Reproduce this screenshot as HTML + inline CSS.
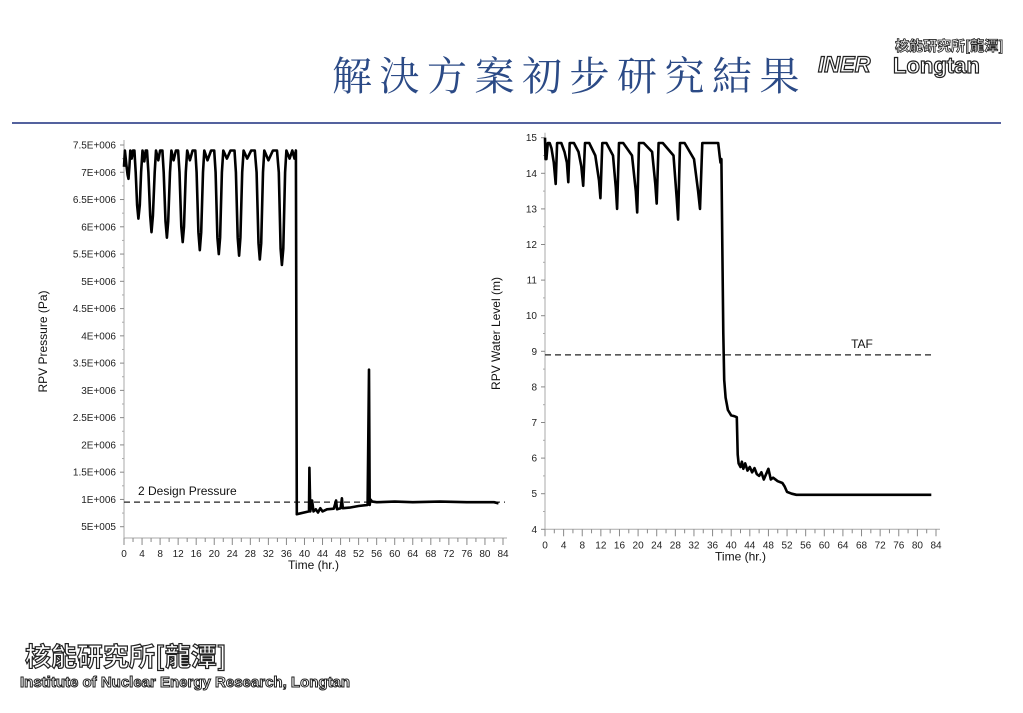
<!DOCTYPE html>
<html><head><meta charset="utf-8"><style>
body{margin:0;width:1023px;height:708px;background:#fff;overflow:hidden;font-family:"Liberation Sans",sans-serif}
svg text{font-family:"Liberation Sans","Noto Sans CJK TC",sans-serif}
</style></head><body>
<svg id="s" width="1023" height="708">
<text x="332" y="90" font-size="40" letter-spacing="7.5" fill="#2b4a86" style="font-family:'Noto Serif CJK SC',serif">解決方案初步研究結果</text>
<g>
<text x="818" y="72" font-size="22" font-style="italic" font-weight="bold" fill="#fff" stroke="#222" stroke-width="1.2">INER</text>
<text x="895" y="51" font-size="14" font-weight="bold" fill="#fff" stroke="#222" stroke-width="0.8" style="font-family:'Noto Sans CJK TC',sans-serif">核能研究所[龍潭]</text>
<text x="893" y="73" font-size="22" font-weight="bold" fill="#fff" stroke="#222" stroke-width="1.2">Longtan</text>
</g>
<line x1="12" y1="123" x2="1001" y2="123" stroke="#1c2f7f" stroke-width="1.5"/>
<g>
<text x="25" y="666" font-size="26" font-weight="bold" fill="#fff" stroke="#222" stroke-width="1.2" style="font-family:'Noto Sans CJK TC',sans-serif">核能研究所[龍潭]</text>
<text x="20" y="687" font-size="15" font-weight="bold" fill="#fff" stroke="#222" stroke-width="1">Institute of Nuclear Energy Research, Longtan</text>
</g>
<g id="c1"></g>
<g id="c2"></g>
</svg>
<script>
const NS='http://www.w3.org/2000/svg';
// Pressure data (time hr, Pa)
const pTime=[0,0.2,0.5,0.8,1.0,1.2,1.4,1.7,2.0,2.3,2.6,2.9,3.2,3.5,3.8,4.1,4.5,4.8,5.1,5.4,5.8,6.1,6.4,6.8,7.1,7.6,8.0,8.5,8.8,9.2,9.5,9.8,10.2,10.5,11.0,11.5,12.0,12.3,12.7,13.0,13.3,13.7,14.0,14.6,15.2,15.8,16.1,16.5,16.8,17.1,17.5,17.8,18.5,19.3,20.0,20.3,20.7,21.0,21.3,21.7,22.0,22.8,23.6,24.5,24.8,25.2,25.5,25.8,26.2,26.5,27.3,28.2,29.0,29.4,29.8,30.1,30.4,30.8,31.1,32.0,33.0,33.9,34.3,34.7,35.0,35.3,35.7,36.0,36.7,37.3,37.8,38.1,38.3,41,41.1,41.3,41.7,42,42.5,43,43.5,44,45,46.5,47,47.2,48,48.3,48.5,50,52,54,54.3,54.45,54.6,55,56,60,64,70,76,82,83];
const pVal=[7.1e6,7.4e6,7.15e6,6.95e6,6.88e6,7.1e6,7.4e6,7.25e6,7.4e6,7.4e6,7.0e6,6.4e6,6.15e6,6.4e6,7.0e6,7.4e6,7.2e6,7.4e6,7.4e6,7.0e6,6.2e6,5.9e6,6.2e6,7.0e6,7.4e6,7.22e6,7.4e6,7.4e6,7.0e6,6.1e6,5.8e6,6.1e6,7.0e6,7.4e6,7.22e6,7.4e6,7.4e6,7.0e6,6.0e6,5.72e6,6.0e6,7.0e6,7.4e6,7.22e6,7.4e6,7.4e6,7.0e6,5.9e6,5.57e6,5.9e6,7.0e6,7.4e6,7.22e6,7.4e6,7.4e6,7.0e6,5.8e6,5.5e6,5.8e6,7.0e6,7.4e6,7.25e6,7.4e6,7.4e6,7.0e6,5.8e6,5.47e6,5.8e6,7.0e6,7.4e6,7.25e6,7.4e6,7.4e6,7.0e6,5.7e6,5.4e6,5.7e6,7.0e6,7.4e6,7.22e6,7.4e6,7.4e6,7.0e6,5.6e6,5.3e6,5.6e6,7.0e6,7.4e6,7.25e6,7.4e6,7.25e6,7.4e6,7.3e5,7.8e5,1.58e6,7.8e5,9.8e5,7.8e5,8.2e5,7.6e5,8.4e5,7.8e5,8.2e5,8.3e5,9.8e5,8.2e5,8.4e5,1.02e6,8.4e5,8.5e5,8.8e5,9.0e5,3.38e6,9.0e5,1.0e6,9.6e5,9.5e5,9.6e5,9.5e5,9.6e5,9.5e5,9.5e5,9.3e5];
const pTicks=[5e5,1e6,1.5e6,2e6,2.5e6,3e6,3.5e6,4e6,4.5e6,5e6,5.5e6,6e6,6.5e6,7e6,7.5e6];
const pTickLabels=['5E+005','1E+006','1.5E+006','2E+006','2.5E+006','3E+006','3.5E+006','4E+006','4.5E+006','5E+006','5.5E+006','6E+006','6.5E+006','7E+006','7.5E+006'];
const designPressure=[9.5e5];
// Water level data (time hr, m)
const wTime=[0,0.1,0.3,0.6,1,1.4,1.9,2.3,2.6,3.5,4.2,4.7,5.0,5.3,6.2,7.2,7.8,8.2,8.6,9.5,10.8,11.6,11.9,12.3,13.2,14.6,15.2,15.5,15.9,16.8,18.7,19.5,19.8,20.2,21.2,23.0,23.7,24.0,24.4,25.3,27.6,28.3,28.6,29.0,30,32.0,32.9,33.3,33.8,35,37.2,37.5,37.7,37.9,38.1,38.3,38.5,38.8,39.3,40,40.6,41.2,41.4,41.6,42,42.3,42.6,43,43.5,44,44.5,45,45.5,46,46.5,47,47.5,48,48.5,49,50,51,51.5,52,53,54,56,60,70,80,83];
const wVal=[15,14.4,14.4,14.85,14.85,14.7,14.3,13.7,14.85,14.85,14.6,14.3,13.75,14.85,14.85,14.6,14.2,13.65,14.85,14.85,14.5,13.8,13.3,14.85,14.85,14.5,13.6,13.0,14.85,14.85,14.5,13.5,12.9,14.85,14.85,14.6,13.7,13.15,14.85,14.85,14.5,13.3,12.7,14.85,14.85,14.4,13.5,13.0,14.85,14.85,14.85,14.5,14.3,14.4,12,9.5,8.2,7.7,7.35,7.2,7.18,7.15,6.1,5.85,5.75,5.9,5.7,5.85,5.65,5.75,5.6,5.72,5.55,5.5,5.6,5.4,5.55,5.7,5.4,5.45,5.35,5.3,5.2,5.05,5.0,4.97,4.97,4.97,4.97,4.97,4.97];
const wTicks=[4,5,6,7,8,9,10,11,12,13,14,15];
const wTickLabels=['4','5','6','7','8','9','10','11','12','13','14','15'];
const tafLevel=[8.9];
const xTickLabels=['0','4','8','12','16','20','24','28','32','36','40','44','48','52','56','60','64','68','72','76','80','84'];

function el(p,tag,a){const e=document.createElementNS(NS,tag);for(const k in a)e.setAttribute(k,a[k]);p.appendChild(e);return e;}

function chart(g,o){
  const X=t=>o.x0+(t-0)/84*(o.x1-o.x0);
  const Y=v=>o.yTop+(o.vMax-v)/(o.vMax-o.vMin)*(o.yBot-o.yTop);
  const ax=el(g,'line',{x1:o.x0,y1:o.yTop-5,x2:o.x0,y2:o.axisY,stroke:'#aaa','stroke-width':1});
  
  
  const bx=el(g,'line',{x1:o.x0,y1:o.axisY,x2:o.x1+4,y2:o.axisY,stroke:'#aaa','stroke-width':1});
  
  
  o.ticks.forEach((v,i)=>{
    el(g,'line',{x1:o.x0-4,y1:Y(v),x2:o.x0,y2:Y(v),stroke:'#888'});
    if(i<o.ticks.length-1){const m=(v+o.ticks[i+1])/2;el(g,'line',{x1:o.x0-2,y1:Y(m),x2:o.x0,y2:Y(m),stroke:'#aaa'});}
    const t=el(g,'text',{x:o.x0-8,y:Y(v)+3.5,'text-anchor':'end','font-size':10,fill:'#222'});
    t.textContent=o.labels[i];
    
    
  });
  for(let t=0;t<=84;t+=2){el(g,'line',{x1:X(t),y1:o.axisY,x2:X(t),y2:o.axisY+(t%4?4:7),stroke:'#888'});}
  xTickLabels.forEach(s=>{const t=el(g,'text',{x:X(+s),y:o.axisY+19,'text-anchor':'middle','font-size':10,fill:'#222'});t.textContent=s;
    
    });
  const xt=el(g,'text',{x:(o.x0+o.x1)/2,y:o.axisY+31,'text-anchor':'middle','font-size':12,fill:'#111'});xt.textContent='Time (hr.)';
  
  
  const yt=el(g,'text',{x:0,y:0,'text-anchor':'middle','font-size':12,fill:'#111',transform:`translate(${o.ytx},${(o.yTop+o.axisY)/2}) rotate(-90)`});yt.textContent=o.ytitle;
  
  
  const dl=el(g,'line',{x1:o.x0,y1:Y(o.ref[0]),x2:o.refEnd,y2:Y(o.ref[0]),stroke:'#222','stroke-width':1.2,'stroke-dasharray':'6,4'});
  
  
  const rl=el(g,'text',{x:o.refLx,y:Y(o.ref[0])+o.refDy,'text-anchor':o.refAnchor,'font-size':12,fill:'#111'});rl.textContent=o.refLabel;
  
  
  const d=o.t.map((t,i)=>(i?'L':'M')+X(t).toFixed(1)+','+Y(o.v[i]).toFixed(1)).join('');
  const p=el(g,'path',{d:d,fill:'none',stroke:'#000','stroke-width':2.6,'stroke-linejoin':'round'});
  
  
}
chart(document.getElementById('c1'),{x0:124,x1:503,yTop:145,yBot:526.7,vMax:7.5e6,vMin:5e5,axisY:538,ticks:pTicks,labels:pTickLabels,
  ytx:47,ytitle:'RPV Pressure (Pa)',ref:designPressure,refEnd:505,refLx:138,refDy:-7,refAnchor:'start',refLabel:'2 Design Pressure',refName:'design-pressure-line',
  t:pTime,v:pVal,seriesName:'pressure-series'});
chart(document.getElementById('c2'),{x0:545,x1:936,yTop:137.7,yBot:529.3,vMax:15,vMin:4,axisY:529.3,ticks:wTicks,labels:wTickLabels,
  ytx:500,ytitle:'RPV Water Level (m)',ref:tafLevel,refEnd:932,refLx:862,refDy:-7,refAnchor:'middle',refLabel:'TAF',refName:'taf-line',
  t:wTime,v:wVal,seriesName:'water-level-series'});
</script>
</body></html>
